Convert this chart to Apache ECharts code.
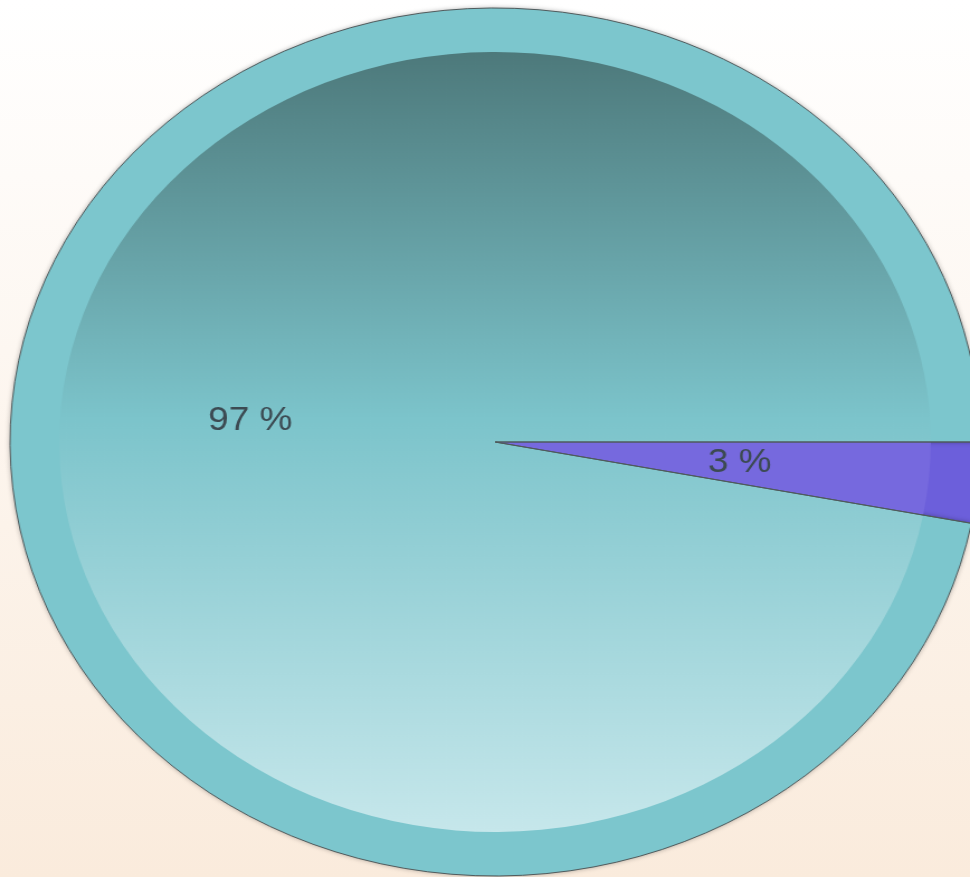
<!DOCTYPE html>
<html>
<head>
<meta charset="utf-8">
<script src="https://cdn.jsdelivr.net/npm/echarts@6/dist/echarts.min.js"></script>
<style>
  html, body { margin: 0; padding: 0; width: 970px; height: 877px; overflow: hidden; }
  body { background: linear-gradient(to bottom, #ffffff 0%, #faebdc 100%); }
  /* pie is stretched sideways to get the oval look */
  #chart {
    position: absolute; left: 0; top: 0;
    width: 868px; height: 877px;
    transform: scaleX(1.1175); transform-origin: 0 0;
  }
</style>
</head>
<body>
<div id="chart"></div>
<script>
const categories = ['B', 'A']
const values = [3, 97]
const outerColors = ['#6c5fdb', '#7cc6cd']

const chart = echarts.init(document.getElementById('chart'))

const center = [443, 442]
const outerR = 434
const innerR = 390

const pieData = (styles) => categories.map((name, i) => ({
  name, value: values[i], itemStyle: styles[i]
}))

const option = {
  backgroundColor: 'transparent',
  animation: false,
  series: [
    {
      // solid rim
      type: 'pie', center, radius: [0, outerR], startAngle: 0, clockwise: true,
      silent: true, label: { show: false }, labelLine: { show: false },
      itemStyle: { shadowBlur: 5, shadowColor: 'rgba(0,0,0,0.35)' },
      data: pieData(outerColors.map(c => ({ color: c })))
    },
    {
      // shaded inner disc
      type: 'pie', center, radius: [0, innerR], startAngle: 0, clockwise: true,
      silent: true, label: { show: false }, labelLine: { show: false },
      data: pieData([
        { color: '#7669de' },
        { color: new echarts.graphic.LinearGradient(0, 0, 0, 1, [
          { offset: 0, color: '#4d797b' },
          { offset: 0.47, color: '#7cc4cb' },
          { offset: 1, color: '#c6e7eb' }
        ]) }
      ])
    },
    {
      // outlines + labels on top
      type: 'pie', center, radius: [0, outerR], startAngle: 0, clockwise: true,
      avoidLabelOverlap: false,
      itemStyle: { color: 'rgba(0,0,0,0)', borderColor: '#4f5a5c', borderWidth: 1 },
      label: {
        show: true, position: 'inside', formatter: '{c} %',
        color: '#3c4a52', fontSize: 33, fontFamily: 'Liberation Sans, Arial, sans-serif'
      },
      labelLine: { show: false },
      emphasis: { disabled: true },
      data: categories.map((name, i) => ({ name, value: values[i] }))
    }
  ]
}

chart.setOption(option)
</script>
</body>
</html>
